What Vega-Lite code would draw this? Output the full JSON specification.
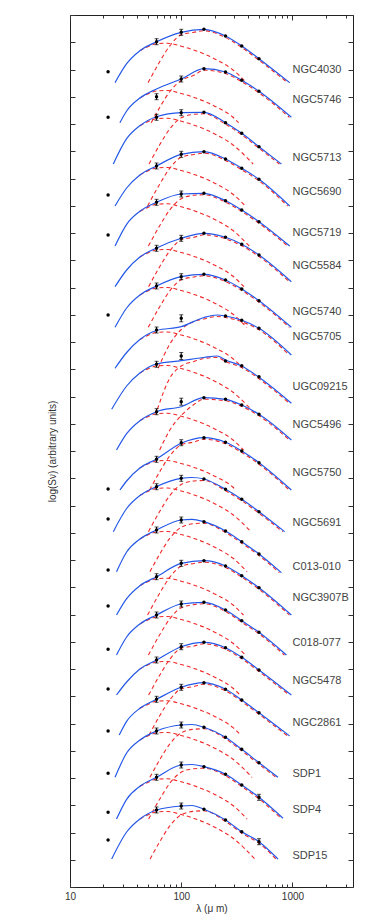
{
"$schema": "https://vega.github.io/schema/vega-lite/v6.json",
"autosize": {"type": "none"},
"width": 283, "height": 872,
"padding": {"left": 70, "top": 15, "right": 21, "bottom": 33},
"background": "white",
"config": {"view": {"stroke": "#222", "strokeWidth": 1}, "font": "Liberation Sans"},
"datasets": {
"cv": [
{"g":1,"c":"b","l":25.4,"v":80.43},{"g":1,"c":"b","l":32.3,"v":82.33},{"g":1,"c":"b","l":42.5,"v":83.63},{"g":1,"c":"b","l":60,"v":84.53},{"g":1,"c":"b","l":100,"v":85.47},{"g":1,"c":"b","l":160,"v":85.77},{"g":1,"c":"b","l":250,"v":85.1},{"g":1,"c":"b","l":350,"v":84.1},{"g":1,"c":"b","l":500,"v":82.83},{"g":1,"c":"b","l":944,"v":80.43},
{"g":1,"c":"c","l":50.3,"v":80.43},{"g":1,"c":"c","l":64,"v":82.52},{"g":1,"c":"c","l":79,"v":84.12},{"g":1,"c":"c","l":100,"v":85.22},{"g":1,"c":"c","l":130,"v":85.47},{"g":1,"c":"c","l":160,"v":85.62},{"g":1,"c":"c","l":250,"v":84.95},{"g":1,"c":"c","l":350,"v":83.95},{"g":1,"c":"c","l":500,"v":82.68},{"g":1,"c":"c","l":906,"v":80.43},
{"g":1,"c":"w","l":42.5,"v":83.63},{"g":1,"c":"w","l":48,"v":83.93},{"g":1,"c":"w","l":60,"v":84.33},{"g":1,"c":"w","l":75,"v":84.38},{"g":1,"c":"w","l":100,"v":84.08},{"g":1,"c":"w","l":127,"v":83.73},{"g":1,"c":"w","l":207,"v":82.73},{"g":1,"c":"w","l":290,"v":81.73},{"g":1,"c":"w","l":385,"v":80.43},
{"g":2,"c":"b","l":28.1,"v":76.43},{"g":2,"c":"b","l":32.3,"v":77.6},{"g":2,"c":"b","l":42.5,"v":78.9},{"g":2,"c":"b","l":60,"v":79.8},{"g":2,"c":"b","l":100,"v":80.8},{"g":2,"c":"b","l":160,"v":81.83},{"g":2,"c":"b","l":250,"v":81.5},{"g":2,"c":"b","l":350,"v":80.67},{"g":2,"c":"b","l":500,"v":79.57},{"g":2,"c":"b","l":977,"v":76.97},
{"g":2,"c":"c","l":53.7,"v":76.43},{"g":2,"c":"c","l":64,"v":77.95},{"g":2,"c":"c","l":79,"v":79.55},{"g":2,"c":"c","l":100,"v":80.65},{"g":2,"c":"c","l":130,"v":81.17},{"g":2,"c":"c","l":160,"v":81.68},{"g":2,"c":"c","l":250,"v":81.35},{"g":2,"c":"c","l":350,"v":80.52},{"g":2,"c":"c","l":500,"v":79.42},{"g":2,"c":"c","l":938,"v":76.97},
{"g":2,"c":"w","l":42.5,"v":78.9},{"g":2,"c":"w","l":48,"v":79.2},{"g":2,"c":"w","l":60,"v":79.6},{"g":2,"c":"w","l":75,"v":79.65},{"g":2,"c":"w","l":100,"v":79.35},{"g":2,"c":"w","l":127,"v":79.0},{"g":2,"c":"w","l":207,"v":78.0},{"g":2,"c":"w","l":290,"v":77.0},{"g":2,"c":"w","l":328,"v":76.43},
{"g":3,"c":"b","l":24.5,"v":72.3},{"g":3,"c":"b","l":32.3,"v":74.83},{"g":3,"c":"b","l":42.5,"v":76.13},{"g":3,"c":"b","l":60,"v":77.03},{"g":3,"c":"b","l":100,"v":77.43},{"g":3,"c":"b","l":160,"v":77.47},{"g":3,"c":"b","l":250,"v":76.43},{"g":3,"c":"b","l":350,"v":75.37},{"g":3,"c":"b","l":500,"v":74.03},{"g":3,"c":"b","l":795,"v":72.3},
{"g":3,"c":"c","l":51.3,"v":72.3},{"g":3,"c":"c","l":64,"v":74.22},{"g":3,"c":"c","l":79,"v":75.82},{"g":3,"c":"c","l":100,"v":76.92},{"g":3,"c":"c","l":130,"v":77.27},{"g":3,"c":"c","l":160,"v":77.32},{"g":3,"c":"c","l":250,"v":76.28},{"g":3,"c":"c","l":350,"v":75.22},{"g":3,"c":"c","l":500,"v":73.88},{"g":3,"c":"c","l":763,"v":72.3},
{"g":3,"c":"w","l":42.5,"v":76.13},{"g":3,"c":"w","l":48,"v":76.43},{"g":3,"c":"w","l":60,"v":76.83},{"g":3,"c":"w","l":75,"v":76.88},{"g":3,"c":"w","l":100,"v":76.58},{"g":3,"c":"w","l":127,"v":76.23},{"g":3,"c":"w","l":207,"v":75.23},{"g":3,"c":"w","l":290,"v":74.23},{"g":3,"c":"w","l":443,"v":72.3},
{"g":4,"c":"b","l":25.4,"v":68.1},{"g":4,"c":"b","l":32.3,"v":69.9},{"g":4,"c":"b","l":42.5,"v":71.2},{"g":4,"c":"b","l":60,"v":72.1},{"g":4,"c":"b","l":100,"v":73.27},{"g":4,"c":"b","l":160,"v":73.53},{"g":4,"c":"b","l":250,"v":72.8},{"g":4,"c":"b","l":350,"v":71.87},{"g":4,"c":"b","l":500,"v":70.77},{"g":4,"c":"b","l":944,"v":68.1},
{"g":4,"c":"c","l":49.8,"v":68.1},{"g":4,"c":"c","l":64,"v":70.28},{"g":4,"c":"c","l":79,"v":71.88},{"g":4,"c":"c","l":100,"v":72.98},{"g":4,"c":"c","l":130,"v":73.25},{"g":4,"c":"c","l":160,"v":73.38},{"g":4,"c":"c","l":250,"v":72.65},{"g":4,"c":"c","l":350,"v":71.72},{"g":4,"c":"c","l":500,"v":70.62},{"g":4,"c":"c","l":906,"v":68.1},
{"g":4,"c":"w","l":42.5,"v":71.2},{"g":4,"c":"w","l":48,"v":71.5},{"g":4,"c":"w","l":60,"v":71.9},{"g":4,"c":"w","l":75,"v":71.95},{"g":4,"c":"w","l":100,"v":71.65},{"g":4,"c":"w","l":127,"v":71.3},{"g":4,"c":"w","l":207,"v":70.3},{"g":4,"c":"w","l":290,"v":69.3},{"g":4,"c":"w","l":377,"v":68.1},
{"g":5,"c":"b","l":25.4,"v":64.1},{"g":5,"c":"b","l":32.3,"v":66.27},{"g":5,"c":"b","l":42.5,"v":67.57},{"g":5,"c":"b","l":60,"v":68.47},{"g":5,"c":"b","l":100,"v":69.3},{"g":5,"c":"b","l":160,"v":69.37},{"g":5,"c":"b","l":250,"v":68.63},{"g":5,"c":"b","l":350,"v":67.7},{"g":5,"c":"b","l":500,"v":66.53},{"g":5,"c":"b","l":944,"v":64.1},
{"g":5,"c":"c","l":50.7,"v":64.1},{"g":5,"c":"c","l":64,"v":66.12},{"g":5,"c":"c","l":79,"v":67.72},{"g":5,"c":"c","l":100,"v":68.82},{"g":5,"c":"c","l":130,"v":69.17},{"g":5,"c":"c","l":160,"v":69.22},{"g":5,"c":"c","l":250,"v":68.48},{"g":5,"c":"c","l":350,"v":67.55},{"g":5,"c":"c","l":500,"v":66.38},{"g":5,"c":"c","l":906,"v":64.1},
{"g":5,"c":"w","l":42.5,"v":67.57},{"g":5,"c":"w","l":48,"v":67.87},{"g":5,"c":"w","l":60,"v":68.27},{"g":5,"c":"w","l":75,"v":68.32},{"g":5,"c":"w","l":100,"v":68.02},{"g":5,"c":"w","l":127,"v":67.67},{"g":5,"c":"w","l":207,"v":66.67},{"g":5,"c":"w","l":290,"v":65.67},{"g":5,"c":"w","l":408,"v":64.1},
{"g":6,"c":"b","l":25.4,"v":60.03},{"g":6,"c":"b","l":32.3,"v":61.7},{"g":6,"c":"b","l":42.5,"v":63.0},{"g":6,"c":"b","l":60,"v":63.9},{"g":6,"c":"b","l":100,"v":64.87},{"g":6,"c":"b","l":160,"v":65.37},{"g":6,"c":"b","l":250,"v":64.97},{"g":6,"c":"b","l":350,"v":64.27},{"g":6,"c":"b","l":500,"v":63.2},{"g":6,"c":"b","l":977,"v":60.53},
{"g":6,"c":"c","l":50.9,"v":60.03},{"g":6,"c":"c","l":64,"v":62.03},{"g":6,"c":"c","l":79,"v":63.62},{"g":6,"c":"c","l":100,"v":64.72},{"g":6,"c":"c","l":130,"v":64.97},{"g":6,"c":"c","l":160,"v":65.22},{"g":6,"c":"c","l":250,"v":64.82},{"g":6,"c":"c","l":350,"v":64.12},{"g":6,"c":"c","l":500,"v":63.05},{"g":6,"c":"c","l":938,"v":60.53},
{"g":6,"c":"w","l":42.5,"v":63.0},{"g":6,"c":"w","l":48,"v":63.3},{"g":6,"c":"w","l":60,"v":63.7},{"g":6,"c":"w","l":75,"v":63.75},{"g":6,"c":"w","l":100,"v":63.45},{"g":6,"c":"w","l":127,"v":63.1},{"g":6,"c":"w","l":207,"v":62.1},{"g":6,"c":"w","l":290,"v":61.1},{"g":6,"c":"w","l":366,"v":60.03},
{"g":7,"c":"b","l":25.4,"v":55.97},{"g":7,"c":"b","l":32.3,"v":57.9},{"g":7,"c":"b","l":42.5,"v":59.2},{"g":7,"c":"b","l":60,"v":60.1},{"g":7,"c":"b","l":100,"v":61.03},{"g":7,"c":"b","l":160,"v":61.27},{"g":7,"c":"b","l":250,"v":60.7},{"g":7,"c":"b","l":350,"v":59.8},{"g":7,"c":"b","l":500,"v":58.63},{"g":7,"c":"b","l":977,"v":55.97},
{"g":7,"c":"c","l":50.5,"v":55.97},{"g":7,"c":"c","l":64,"v":58.02},{"g":7,"c":"c","l":79,"v":59.62},{"g":7,"c":"c","l":100,"v":60.72},{"g":7,"c":"c","l":130,"v":61.0},{"g":7,"c":"c","l":160,"v":61.12},{"g":7,"c":"c","l":250,"v":60.55},{"g":7,"c":"c","l":350,"v":59.65},{"g":7,"c":"c","l":500,"v":58.48},{"g":7,"c":"c","l":938,"v":55.97},
{"g":7,"c":"w","l":42.5,"v":59.2},{"g":7,"c":"w","l":48,"v":59.5},{"g":7,"c":"w","l":60,"v":59.9},{"g":7,"c":"w","l":75,"v":59.95},{"g":7,"c":"w","l":100,"v":59.65},{"g":7,"c":"w","l":127,"v":59.3},{"g":7,"c":"w","l":207,"v":58.3},{"g":7,"c":"w","l":290,"v":57.3},{"g":7,"c":"w","l":388,"v":55.97},
{"g":8,"c":"b","l":25.4,"v":51.87},{"g":8,"c":"b","l":32.3,"v":53.45},{"g":8,"c":"b","l":42.5,"v":54.75},{"g":8,"c":"b","l":60,"v":55.65},{"g":8,"c":"b","l":100,"v":56.03},{"g":8,"c":"b","l":160,"v":56.95},{"g":8,"c":"b","l":210,"v":57.2},{"g":8,"c":"b","l":250,"v":57.1},{"g":8,"c":"b","l":350,"v":56.67},{"g":8,"c":"b","l":500,"v":55.87},{"g":8,"c":"b","l":977,"v":53.2},
{"g":8,"c":"c","l":62,"v":51.87},{"g":8,"c":"c","l":79,"v":54.3},{"g":8,"c":"c","l":100,"v":55.75},{"g":8,"c":"c","l":130,"v":56.55},{"g":8,"c":"c","l":160,"v":56.8},{"g":8,"c":"c","l":210,"v":57.05},{"g":8,"c":"c","l":250,"v":56.95},{"g":8,"c":"c","l":350,"v":56.52},{"g":8,"c":"c","l":500,"v":55.72},{"g":8,"c":"c","l":938,"v":53.2},
{"g":8,"c":"w","l":42.5,"v":54.75},{"g":8,"c":"w","l":48,"v":55.05},{"g":8,"c":"w","l":60,"v":55.45},{"g":8,"c":"w","l":75,"v":55.5},{"g":8,"c":"w","l":100,"v":55.2},{"g":8,"c":"w","l":127,"v":54.85},{"g":8,"c":"w","l":207,"v":53.85},{"g":8,"c":"w","l":290,"v":52.85},{"g":8,"c":"w","l":359,"v":51.87},
{"g":9,"c":"b","l":23.7,"v":47.77},{"g":9,"c":"b","l":32.3,"v":50.1},{"g":9,"c":"b","l":42.5,"v":51.4},{"g":9,"c":"b","l":60,"v":52.3},{"g":9,"c":"b","l":100,"v":52.63},{"g":9,"c":"b","l":160,"v":52.95},{"g":9,"c":"b","l":210,"v":53.1},{"g":9,"c":"b","l":250,"v":52.7},{"g":9,"c":"b","l":350,"v":52.1},{"g":9,"c":"b","l":500,"v":50.97},{"g":9,"c":"b","l":977,"v":48.37},
{"g":9,"c":"c","l":61,"v":47.77},{"g":9,"c":"c","l":79,"v":50.9},{"g":9,"c":"c","l":100,"v":52.1},{"g":9,"c":"c","l":130,"v":52.55},{"g":9,"c":"c","l":160,"v":52.85},{"g":9,"c":"c","l":210,"v":52.95},{"g":9,"c":"c","l":250,"v":52.55},{"g":9,"c":"c","l":350,"v":51.95},{"g":9,"c":"c","l":500,"v":50.82},{"g":9,"c":"c","l":938,"v":48.37},
{"g":9,"c":"w","l":42.5,"v":51.4},{"g":9,"c":"w","l":48,"v":51.7},{"g":9,"c":"w","l":60,"v":52.1},{"g":9,"c":"w","l":75,"v":52.15},{"g":9,"c":"w","l":100,"v":51.85},{"g":9,"c":"w","l":127,"v":51.5},{"g":9,"c":"w","l":207,"v":50.5},{"g":9,"c":"w","l":290,"v":49.5},{"g":9,"c":"w","l":424,"v":47.77},
{"g":10,"c":"b","l":26.2,"v":43.7},{"g":10,"c":"b","l":32.3,"v":45.33},{"g":10,"c":"b","l":42.5,"v":46.63},{"g":10,"c":"b","l":60,"v":47.53},{"g":10,"c":"b","l":100,"v":48.03},{"g":10,"c":"b","l":160,"v":48.93},{"g":10,"c":"b","l":250,"v":48.77},{"g":10,"c":"b","l":350,"v":48.2},{"g":10,"c":"b","l":500,"v":47.27},{"g":10,"c":"b","l":977,"v":44.7},
{"g":10,"c":"c","l":64,"v":43.7},{"g":10,"c":"c","l":79,"v":45.7},{"g":10,"c":"c","l":100,"v":47.15},{"g":10,"c":"c","l":130,"v":48.25},{"g":10,"c":"c","l":160,"v":48.78},{"g":10,"c":"c","l":250,"v":48.62},{"g":10,"c":"c","l":350,"v":48.05},{"g":10,"c":"c","l":500,"v":47.12},{"g":10,"c":"c","l":938,"v":44.7},
{"g":10,"c":"w","l":42.5,"v":46.63},{"g":10,"c":"w","l":48,"v":46.93},{"g":10,"c":"w","l":60,"v":47.33},{"g":10,"c":"w","l":75,"v":47.38},{"g":10,"c":"w","l":100,"v":47.08},{"g":10,"c":"w","l":127,"v":46.73},{"g":10,"c":"w","l":207,"v":45.73},{"g":10,"c":"w","l":290,"v":44.73},{"g":10,"c":"w","l":363,"v":43.7},
{"g":11,"c":"b","l":28.1,"v":39.7},{"g":11,"c":"b","l":32.3,"v":40.6},{"g":11,"c":"b","l":42.5,"v":41.9},{"g":11,"c":"b","l":60,"v":42.8},{"g":11,"c":"b","l":100,"v":44.37},{"g":11,"c":"b","l":160,"v":44.93},{"g":11,"c":"b","l":250,"v":44.47},{"g":11,"c":"b","l":350,"v":43.6},{"g":11,"c":"b","l":500,"v":42.43},{"g":11,"c":"b","l":977,"v":39.7},
{"g":11,"c":"c","l":51.9,"v":39.7},{"g":11,"c":"c","l":64,"v":41.52},{"g":11,"c":"c","l":79,"v":43.12},{"g":11,"c":"c","l":100,"v":44.22},{"g":11,"c":"c","l":130,"v":44.5},{"g":11,"c":"c","l":160,"v":44.78},{"g":11,"c":"c","l":250,"v":44.32},{"g":11,"c":"c","l":350,"v":43.45},{"g":11,"c":"c","l":500,"v":42.28},{"g":11,"c":"c","l":938,"v":39.7},
{"g":11,"c":"w","l":42.5,"v":41.9},{"g":11,"c":"w","l":48,"v":42.2},{"g":11,"c":"w","l":60,"v":42.6},{"g":11,"c":"w","l":75,"v":42.65},{"g":11,"c":"w","l":100,"v":42.35},{"g":11,"c":"w","l":127,"v":42.0},{"g":11,"c":"w","l":207,"v":41.0},{"g":11,"c":"w","l":290,"v":40.0},{"g":11,"c":"w","l":309,"v":39.7},
{"g":12,"c":"b","l":24.5,"v":35.53},{"g":12,"c":"b","l":32.3,"v":37.85},{"g":12,"c":"b","l":42.5,"v":39.15},{"g":12,"c":"b","l":60,"v":40.05},{"g":12,"c":"b","l":100,"v":40.87},{"g":12,"c":"b","l":125,"v":40.95},{"g":12,"c":"b","l":160,"v":40.8},{"g":12,"c":"b","l":250,"v":39.77},{"g":12,"c":"b","l":350,"v":38.77},{"g":12,"c":"b","l":500,"v":37.53},{"g":12,"c":"b","l":851,"v":35.53},
{"g":12,"c":"c","l":50.7,"v":35.53},{"g":12,"c":"c","l":64,"v":37.55},{"g":12,"c":"c","l":79,"v":39.15},{"g":12,"c":"c","l":100,"v":40.25},{"g":12,"c":"c","l":130,"v":40.6},{"g":12,"c":"c","l":160,"v":40.65},{"g":12,"c":"c","l":250,"v":39.62},{"g":12,"c":"c","l":350,"v":38.62},{"g":12,"c":"c","l":500,"v":37.38},{"g":12,"c":"c","l":817,"v":35.53},
{"g":12,"c":"w","l":42.5,"v":39.15},{"g":12,"c":"w","l":48,"v":39.45},{"g":12,"c":"w","l":60,"v":39.85},{"g":12,"c":"w","l":75,"v":39.9},{"g":12,"c":"w","l":100,"v":39.6},{"g":12,"c":"w","l":127,"v":39.25},{"g":12,"c":"w","l":207,"v":38.25},{"g":12,"c":"w","l":290,"v":37.25},{"g":12,"c":"w","l":423,"v":35.53},
{"g":13,"c":"b","l":26.2,"v":31.53},{"g":13,"c":"b","l":32.3,"v":33.5},{"g":13,"c":"b","l":42.5,"v":34.8},{"g":13,"c":"b","l":60,"v":35.7},{"g":13,"c":"b","l":100,"v":36.7},{"g":13,"c":"b","l":125,"v":36.77},{"g":13,"c":"b","l":160,"v":36.53},{"g":13,"c":"b","l":250,"v":35.6},{"g":13,"c":"b","l":350,"v":34.53},{"g":13,"c":"b","l":500,"v":33.3},{"g":13,"c":"b","l":795,"v":31.43},
{"g":13,"c":"c","l":52.3,"v":31.53},{"g":13,"c":"c","l":64,"v":33.28},{"g":13,"c":"c","l":79,"v":34.88},{"g":13,"c":"c","l":100,"v":35.98},{"g":13,"c":"c","l":130,"v":36.33},{"g":13,"c":"c","l":160,"v":36.38},{"g":13,"c":"c","l":250,"v":35.45},{"g":13,"c":"c","l":350,"v":34.38},{"g":13,"c":"c","l":500,"v":33.15},{"g":13,"c":"c","l":763,"v":31.43},
{"g":13,"c":"w","l":42.5,"v":34.8},{"g":13,"c":"w","l":48,"v":35.1},{"g":13,"c":"w","l":60,"v":35.5},{"g":13,"c":"w","l":75,"v":35.55},{"g":13,"c":"w","l":100,"v":35.25},{"g":13,"c":"w","l":127,"v":34.9},{"g":13,"c":"w","l":207,"v":33.9},{"g":13,"c":"w","l":290,"v":32.9},{"g":13,"c":"w","l":391,"v":31.53},
{"g":14,"c":"b","l":26.2,"v":27.2},{"g":14,"c":"b","l":32.3,"v":28.83},{"g":14,"c":"b","l":42.5,"v":30.13},{"g":14,"c":"b","l":60,"v":31.03},{"g":14,"c":"b","l":100,"v":32.37},{"g":14,"c":"b","l":160,"v":32.63},{"g":14,"c":"b","l":250,"v":32.1},{"g":14,"c":"b","l":350,"v":31.13},{"g":14,"c":"b","l":500,"v":29.93},{"g":14,"c":"b","l":977,"v":27.2},
{"g":14,"c":"c","l":49.8,"v":27.2},{"g":14,"c":"c","l":64,"v":29.38},{"g":14,"c":"c","l":79,"v":30.98},{"g":14,"c":"c","l":100,"v":32.08},{"g":14,"c":"c","l":130,"v":32.35},{"g":14,"c":"c","l":160,"v":32.48},{"g":14,"c":"c","l":250,"v":31.95},{"g":14,"c":"c","l":350,"v":30.98},{"g":14,"c":"c","l":500,"v":29.78},{"g":14,"c":"c","l":938,"v":27.2},
{"g":14,"c":"w","l":42.5,"v":30.13},{"g":14,"c":"w","l":48,"v":30.43},{"g":14,"c":"w","l":60,"v":30.83},{"g":14,"c":"w","l":75,"v":30.88},{"g":14,"c":"w","l":100,"v":30.58},{"g":14,"c":"w","l":127,"v":30.23},{"g":14,"c":"w","l":207,"v":29.23},{"g":14,"c":"w","l":290,"v":28.23},{"g":14,"c":"w","l":363,"v":27.2},
{"g":15,"c":"b","l":26.2,"v":23.2},{"g":15,"c":"b","l":32.3,"v":25.0},{"g":15,"c":"b","l":42.5,"v":26.3},{"g":15,"c":"b","l":60,"v":27.2},{"g":15,"c":"b","l":100,"v":28.3},{"g":15,"c":"b","l":160,"v":28.47},{"g":15,"c":"b","l":250,"v":27.7},{"g":15,"c":"b","l":350,"v":26.63},{"g":15,"c":"b","l":500,"v":25.47},{"g":15,"c":"b","l":882,"v":23.2},
{"g":15,"c":"c","l":50.7,"v":23.2},{"g":15,"c":"c","l":64,"v":25.22},{"g":15,"c":"c","l":79,"v":26.82},{"g":15,"c":"c","l":100,"v":27.92},{"g":15,"c":"c","l":130,"v":28.24},{"g":15,"c":"c","l":160,"v":28.32},{"g":15,"c":"c","l":250,"v":27.55},{"g":15,"c":"c","l":350,"v":26.48},{"g":15,"c":"c","l":500,"v":25.32},{"g":15,"c":"c","l":847,"v":23.2},
{"g":15,"c":"w","l":42.5,"v":26.3},{"g":15,"c":"w","l":48,"v":26.6},{"g":15,"c":"w","l":60,"v":27.0},{"g":15,"c":"w","l":75,"v":27.05},{"g":15,"c":"w","l":100,"v":26.75},{"g":15,"c":"w","l":127,"v":26.4},{"g":15,"c":"w","l":207,"v":25.4},{"g":15,"c":"w","l":290,"v":24.4},{"g":15,"c":"w","l":377,"v":23.2},
{"g":16,"c":"b","l":26.2,"v":19.2},{"g":16,"c":"b","l":32.3,"v":20.5},{"g":16,"c":"b","l":42.5,"v":21.8},{"g":16,"c":"b","l":60,"v":22.7},{"g":16,"c":"b","l":100,"v":24.03},{"g":16,"c":"b","l":160,"v":24.47},{"g":16,"c":"b","l":250,"v":23.93},{"g":16,"c":"b","l":350,"v":22.97},{"g":16,"c":"b","l":500,"v":21.7},{"g":16,"c":"b","l":977,"v":19.2},
{"g":16,"c":"c","l":50.9,"v":19.2},{"g":16,"c":"c","l":64,"v":21.18},{"g":16,"c":"c","l":79,"v":22.78},{"g":16,"c":"c","l":100,"v":23.88},{"g":16,"c":"c","l":130,"v":24.1},{"g":16,"c":"c","l":160,"v":24.32},{"g":16,"c":"c","l":250,"v":23.78},{"g":16,"c":"c","l":350,"v":22.82},{"g":16,"c":"c","l":500,"v":21.55},{"g":16,"c":"c","l":938,"v":19.2},
{"g":16,"c":"w","l":42.5,"v":21.8},{"g":16,"c":"w","l":48,"v":22.1},{"g":16,"c":"w","l":60,"v":22.5},{"g":16,"c":"w","l":75,"v":22.55},{"g":16,"c":"w","l":100,"v":22.25},{"g":16,"c":"w","l":127,"v":21.9},{"g":16,"c":"w","l":207,"v":20.9},{"g":16,"c":"w","l":290,"v":19.9},{"g":16,"c":"w","l":338,"v":19.2},
{"g":17,"c":"b","l":27.7,"v":15.2},{"g":17,"c":"b","l":32.3,"v":16.57},{"g":17,"c":"b","l":42.5,"v":17.87},{"g":17,"c":"b","l":60,"v":18.77},{"g":17,"c":"b","l":100,"v":19.97},{"g":17,"c":"b","l":160,"v":20.43},{"g":17,"c":"b","l":250,"v":19.77},{"g":17,"c":"b","l":350,"v":18.7},{"g":17,"c":"b","l":500,"v":17.43},{"g":17,"c":"b","l":944,"v":15.1},
{"g":17,"c":"c","l":51.3,"v":15.2},{"g":17,"c":"c","l":64,"v":17.12},{"g":17,"c":"c","l":79,"v":18.72},{"g":17,"c":"c","l":100,"v":19.82},{"g":17,"c":"c","l":130,"v":20.05},{"g":17,"c":"c","l":160,"v":20.28},{"g":17,"c":"c","l":250,"v":19.62},{"g":17,"c":"c","l":350,"v":18.55},{"g":17,"c":"c","l":500,"v":17.28},{"g":17,"c":"c","l":906,"v":15.1},
{"g":17,"c":"w","l":42.5,"v":17.87},{"g":17,"c":"w","l":48,"v":18.17},{"g":17,"c":"w","l":60,"v":18.57},{"g":17,"c":"w","l":75,"v":18.62},{"g":17,"c":"w","l":100,"v":18.32},{"g":17,"c":"w","l":127,"v":17.97},{"g":17,"c":"w","l":207,"v":16.97},{"g":17,"c":"w","l":290,"v":15.97},{"g":17,"c":"w","l":343,"v":15.2},
{"g":18,"c":"b","l":25.4,"v":10.97},{"g":18,"c":"b","l":32.3,"v":13.4},{"g":18,"c":"b","l":42.5,"v":14.7},{"g":18,"c":"b","l":60,"v":15.6},{"g":18,"c":"b","l":100,"v":16.2},{"g":18,"c":"b","l":125,"v":16.25},{"g":18,"c":"b","l":160,"v":15.97},{"g":18,"c":"b","l":250,"v":14.97},{"g":18,"c":"b","l":350,"v":13.77},{"g":18,"c":"b","l":500,"v":12.43},{"g":18,"c":"b","l":741,"v":10.97},
{"g":18,"c":"c","l":52.3,"v":10.97},{"g":18,"c":"c","l":64,"v":12.72},{"g":18,"c":"c","l":79,"v":14.32},{"g":18,"c":"c","l":100,"v":15.42},{"g":18,"c":"c","l":130,"v":15.77},{"g":18,"c":"c","l":160,"v":15.82},{"g":18,"c":"c","l":250,"v":14.82},{"g":18,"c":"c","l":350,"v":13.62},{"g":18,"c":"c","l":500,"v":12.28},{"g":18,"c":"c","l":711,"v":10.97},
{"g":18,"c":"w","l":42.5,"v":14.7},{"g":18,"c":"w","l":48,"v":15.0},{"g":18,"c":"w","l":60,"v":15.4},{"g":18,"c":"w","l":75,"v":15.45},{"g":18,"c":"w","l":100,"v":15.15},{"g":18,"c":"w","l":127,"v":14.8},{"g":18,"c":"w","l":207,"v":13.8},{"g":18,"c":"w","l":290,"v":12.8},{"g":18,"c":"w","l":433,"v":10.97},
{"g":19,"c":"b","l":26.2,"v":6.8},{"g":19,"c":"b","l":32.3,"v":8.77},{"g":19,"c":"b","l":42.5,"v":10.07},{"g":19,"c":"b","l":60,"v":10.97},{"g":19,"c":"b","l":100,"v":12.2},{"g":19,"c":"b","l":125,"v":12.25},{"g":19,"c":"b","l":160,"v":12.03},{"g":19,"c":"b","l":250,"v":11.27},{"g":19,"c":"b","l":350,"v":10.2},{"g":19,"c":"b","l":500,"v":8.97},{"g":19,"c":"b","l":822,"v":6.87},
{"g":19,"c":"c","l":50.9,"v":6.8},{"g":19,"c":"c","l":64,"v":8.78},{"g":19,"c":"c","l":79,"v":10.38},{"g":19,"c":"c","l":100,"v":11.48},{"g":19,"c":"c","l":130,"v":11.83},{"g":19,"c":"c","l":160,"v":11.88},{"g":19,"c":"c","l":250,"v":11.12},{"g":19,"c":"c","l":350,"v":10.05},{"g":19,"c":"c","l":500,"v":8.82},{"g":19,"c":"c","l":789,"v":6.87},
{"g":19,"c":"w","l":42.5,"v":10.07},{"g":19,"c":"w","l":48,"v":10.37},{"g":19,"c":"w","l":60,"v":10.77},{"g":19,"c":"w","l":75,"v":10.82},{"g":19,"c":"w","l":100,"v":10.52},{"g":19,"c":"w","l":127,"v":10.17},{"g":19,"c":"w","l":207,"v":9.17},{"g":19,"c":"w","l":290,"v":8.17},{"g":19,"c":"w","l":391,"v":6.8},
{"g":20,"c":"b","l":23.7,"v":2.8},{"g":20,"c":"b","l":32.3,"v":5.5},{"g":20,"c":"b","l":42.5,"v":6.8},{"g":20,"c":"b","l":60,"v":7.7},{"g":20,"c":"b","l":100,"v":8.1},{"g":20,"c":"b","l":125,"v":8.15},{"g":20,"c":"b","l":160,"v":7.77},{"g":20,"c":"b","l":250,"v":6.7},{"g":20,"c":"b","l":350,"v":5.53},{"g":20,"c":"b","l":500,"v":4.53},{"g":20,"c":"b","l":741,"v":2.8},
{"g":20,"c":"c","l":52.5,"v":2.8},{"g":20,"c":"c","l":64,"v":4.52},{"g":20,"c":"c","l":79,"v":6.12},{"g":20,"c":"c","l":100,"v":7.22},{"g":20,"c":"c","l":130,"v":7.57},{"g":20,"c":"c","l":160,"v":7.62},{"g":20,"c":"c","l":250,"v":6.55},{"g":20,"c":"c","l":350,"v":5.38},{"g":20,"c":"c","l":500,"v":4.38},{"g":20,"c":"c","l":711,"v":2.8},
{"g":20,"c":"w","l":42.5,"v":6.8},{"g":20,"c":"w","l":48,"v":7.1},{"g":20,"c":"w","l":60,"v":7.5},{"g":20,"c":"w","l":75,"v":7.55},{"g":20,"c":"w","l":100,"v":7.25},{"g":20,"c":"w","l":127,"v":6.9},{"g":20,"c":"w","l":207,"v":5.9},{"g":20,"c":"w","l":290,"v":4.9},{"g":20,"c":"w","l":459,"v":2.8}
],
"pt": [
{"l":22,"v":81.53},{"l":60,"v":84.53,"lo":84.23,"hi":84.83},{"l":100,"v":85.47,"lo":85.17,"hi":85.77},{"l":160,"v":85.77},{"l":250,"v":85.1},{"l":350,"v":84.1},{"l":500,"v":82.83},
{"l":22,"v":76.97},{"l":60,"v":79.03,"lo":78.73,"hi":79.33},{"l":100,"v":80.8,"lo":80.5,"hi":81.1},{"l":160,"v":81.83},{"l":250,"v":81.5},{"l":350,"v":80.67},{"l":500,"v":79.57},
{"l":60,"v":76.97,"lo":76.67,"hi":77.27},{"l":100,"v":77.43,"lo":77.13,"hi":77.73},{"l":160,"v":77.47},{"l":250,"v":76.43},{"l":350,"v":75.37},{"l":500,"v":74.03},
{"l":22,"v":69.2},{"l":60,"v":72.1,"lo":71.8,"hi":72.4},{"l":100,"v":73.27,"lo":72.97,"hi":73.57},{"l":160,"v":73.53},{"l":250,"v":72.8},{"l":350,"v":71.87},{"l":500,"v":70.77},
{"l":22,"v":65.2},{"l":60,"v":68.47,"lo":68.17,"hi":68.77},{"l":100,"v":69.3,"lo":69.0,"hi":69.6},{"l":160,"v":69.37},{"l":250,"v":68.63},{"l":350,"v":67.7},{"l":500,"v":66.53},
{"l":60,"v":63.87,"lo":63.57,"hi":64.17},{"l":100,"v":64.87,"lo":64.57,"hi":65.17},{"l":160,"v":65.37},{"l":250,"v":64.97},{"l":350,"v":64.27},{"l":500,"v":63.2},
{"l":22,"v":57.2},{"l":60,"v":60.1,"lo":59.8,"hi":60.4},{"l":100,"v":61.03,"lo":60.73,"hi":61.33},{"l":160,"v":61.27},{"l":250,"v":60.7},{"l":350,"v":59.8},{"l":500,"v":58.63},
{"l":60,"v":55.7,"lo":55.4,"hi":56.0},{"l":100,"v":56.87,"lo":56.52,"hi":57.22},{"l":250,"v":57.1},{"l":350,"v":56.67},{"l":500,"v":55.87},
{"l":60,"v":52.27,"lo":51.97,"hi":52.57},{"l":100,"v":53.1,"lo":52.75,"hi":53.45},{"l":250,"v":52.6},{"l":350,"v":52.13},{"l":500,"v":51.03},
{"l":60,"v":47.53,"lo":47.23,"hi":47.83},{"l":100,"v":48.53,"lo":48.18,"hi":48.88},{"l":160,"v":48.93},{"l":250,"v":48.77},{"l":350,"v":48.2},{"l":500,"v":47.27},
{"l":22,"v":39.8},{"l":60,"v":42.77,"lo":42.47,"hi":43.07},{"l":100,"v":44.43,"lo":44.13,"hi":44.73},{"l":160,"v":44.93},{"l":250,"v":44.47},{"l":350,"v":43.6},{"l":500,"v":42.43},
{"l":22,"v":36.8},{"l":60,"v":40.03,"lo":39.73,"hi":40.33},{"l":100,"v":40.87,"lo":40.57,"hi":41.17},{"l":160,"v":40.8},{"l":250,"v":39.77},{"l":350,"v":38.77},{"l":500,"v":37.53},
{"l":22,"v":31.7},{"l":60,"v":35.7,"lo":35.4,"hi":36.0},{"l":100,"v":36.7,"lo":36.4,"hi":37.0},{"l":160,"v":36.53},{"l":250,"v":35.6},{"l":350,"v":34.53},{"l":500,"v":33.3},
{"l":22,"v":28.1},{"l":60,"v":31.03,"lo":30.73,"hi":31.33},{"l":100,"v":32.37,"lo":32.07,"hi":32.67},{"l":160,"v":32.63},{"l":250,"v":32.1},{"l":350,"v":31.13},{"l":500,"v":29.93},
{"l":22,"v":23.77},{"l":60,"v":27.2,"lo":26.9,"hi":27.5},{"l":100,"v":28.3,"lo":28.0,"hi":28.6},{"l":160,"v":28.47},{"l":250,"v":27.7},{"l":350,"v":26.63},{"l":500,"v":25.47},
{"l":22,"v":19.8},{"l":60,"v":22.7,"lo":22.4,"hi":23.0},{"l":100,"v":24.03,"lo":23.73,"hi":24.33},{"l":160,"v":24.47},{"l":250,"v":23.93},{"l":350,"v":22.97},{"l":500,"v":21.7},
{"l":22,"v":15.6},{"l":60,"v":18.77,"lo":18.47,"hi":19.07},{"l":100,"v":19.97,"lo":19.67,"hi":20.27},{"l":160,"v":20.43},{"l":250,"v":19.77},{"l":350,"v":18.7},{"l":500,"v":17.43},
{"l":22,"v":11.37},{"l":60,"v":15.6,"lo":15.3,"hi":15.9},{"l":100,"v":16.2,"lo":15.9,"hi":16.5},{"l":160,"v":15.97},{"l":250,"v":14.97},{"l":350,"v":13.77},{"l":500,"v":12.43},
{"l":22,"v":7.47},{"l":60,"v":10.97,"lo":10.67,"hi":11.27},{"l":100,"v":12.2,"lo":11.9,"hi":12.5},{"l":160,"v":12.03},{"l":250,"v":11.27},{"l":350,"v":10.2},{"l":500,"v":8.97,"lo":8.67,"hi":9.27},
{"l":22,"v":4.7},{"l":60,"v":7.7,"lo":7.4,"hi":8.0},{"l":100,"v":8.1,"lo":7.8,"hi":8.4},{"l":160,"v":7.77},{"l":250,"v":6.7},{"l":350,"v":5.53},{"l":500,"v":4.53,"lo":4.23,"hi":4.83}
],
"lb": [
{"n":"NGC4030","l":1000,"v":81.7},{"n":"NGC5746","l":1000,"v":78.7},{"n":"NGC5713","l":1000,"v":72.9},{"n":"NGC5690","l":1000,"v":69.5},{"n":"NGC5719","l":1000,"v":65.4},{"n":"NGC5584","l":1000,"v":62.1},{"n":"NGC5740","l":1000,"v":57.5},{"n":"NGC5705","l":1000,"v":55.0},{"n":"UGC09215","l":1000,"v":50.0},{"n":"NGC5496","l":1000,"v":46.2},{"n":"NGC5750","l":1000,"v":41.4},{"n":"NGC5691","l":1000,"v":36.4},{"n":"C013-010","l":1000,"v":32.0},{"n":"NGC3907B","l":1000,"v":28.9},{"n":"C018-077","l":1000,"v":24.4},{"n":"NGC5478","l":1000,"v":20.6},{"n":"NGC2861","l":1000,"v":16.4},{"n":"SDP1","l":1000,"v":11.3},{"n":"SDP4","l":1000,"v":7.7},{"n":"SDP15","l":1000,"v":3.1}
]
},
"layer": [
{"data": {"name": "cv"}, "transform": [{"filter": "datum.c != 'b'"}],
 "mark": {"type": "line", "color": "#f02828", "strokeDash": [4, 3], "strokeWidth": 1.1, "interpolate": "monotone"},
 "encoding": {
  "x": {"field": "l", "type": "quantitative", "scale": {"type": "log", "domain": [10, 3500]},
   "axis": {"orient": "bottom", "values": [10, 100, 1000], "format": "d", "offset": -5, "tickSize": 5, "domain": false, "grid": false, "tickColor": "#333", "labelFontSize": 10, "labelColor": "#333", "labelPadding": 4, "labelFlush": false, "title": "λ (μ m)", "titleFontSize": 10, "titleFontWeight": "normal", "titleColor": "#333", "titlePadding": 2}},
  "y": {"field": "v", "type": "quantitative", "scale": {"domain": [0, 87.2]},
   "axis": {"orient": "left", "values": [0,2.725,5.45,8.175,10.9,13.625,16.35,19.075,21.8,24.525,27.25,29.975,32.7,35.425,38.15,40.875,43.6,46.325,49.05,51.775,54.5,57.225,59.95,62.675,65.4,68.125,70.85,73.575,76.3,79.025,81.75,84.475,87.2], "offset": -5, "tickSize": 5, "tickColor": "#333", "labels": false, "domain": false, "grid": false, "title": "log(Sν) (arbitrary units)", "titleFontSize": 10, "titleFontWeight": "normal", "titleColor": "#333", "titlePadding": 12}},
  "detail": [{"field": "g"}, {"field": "c"}]}},
{"data": {"name": "cv"}, "transform": [{"filter": "datum.c == 'b'"}],
 "mark": {"type": "line", "color": "#2458e8", "strokeWidth": 1.2, "interpolate": "monotone"},
 "encoding": {
  "x": {"field": "l", "type": "quantitative", "scale": {"type": "log", "domain": [10, 3500]},
   "axis": {"orient": "bottom", "values": [20,30,40,50,60,70,80,90,200,300,400,500,600,700,800,900,2000,3000], "offset": -3, "tickSize": 3, "tickColor": "#333", "labels": false, "domain": false, "grid": false, "title": null}},
  "y": {"field": "v", "type": "quantitative", "scale": {"domain": [0, 87.2]},
   "axis": {"orient": "right", "values": [0,2.725,5.45,8.175,10.9,13.625,16.35,19.075,21.8,24.525,27.25,29.975,32.7,35.425,38.15,40.875,43.6,46.325,49.05,51.775,54.5,57.225,59.95,62.675,65.4,68.125,70.85,73.575,76.3,79.025,81.75,84.475,87.2], "offset": -5, "tickSize": 5, "tickColor": "#333", "labels": false, "domain": false, "grid": false, "title": null}},
  "detail": {"field": "g"}}},
{"data": {"name": "pt"}, "transform": [{"filter": "isValid(datum.lo)"}],
 "mark": {"type": "rule", "color": "#000", "strokeWidth": 1},
 "encoding": {
  "x": {"field": "l", "type": "quantitative", "scale": {"type": "log", "domain": [10, 3500]},
   "axis": {"orient": "top", "values": [10, 100, 1000], "offset": -5, "tickSize": 5, "tickColor": "#333", "labels": false, "domain": false, "grid": false, "title": null}},
  "y": {"field": "lo", "type": "quantitative", "scale": {"domain": [0, 87.2]}, "axis": null},
  "y2": {"field": "hi"}}},
{"data": {"name": "pt"}, "transform": [{"filter": "isValid(datum.lo)"}],
 "mark": {"type": "tick", "orient": "horizontal", "color": "#000", "size": 4, "thickness": 1},
 "encoding": {
  "x": {"field": "l", "type": "quantitative", "scale": {"type": "log", "domain": [10, 3500]},
   "axis": {"orient": "top", "values": [20,30,40,50,60,70,80,90,200,300,400,500,600,700,800,900,2000,3000], "offset": -3, "tickSize": 3, "tickColor": "#333", "labels": false, "domain": false, "grid": false, "title": null}},
  "y": {"field": "lo", "type": "quantitative", "scale": {"domain": [0, 87.2]}, "axis": null}}},
{"data": {"name": "pt"}, "transform": [{"filter": "isValid(datum.hi)"}],
 "mark": {"type": "tick", "orient": "horizontal", "color": "#000", "size": 4, "thickness": 1},
 "encoding": {
  "x": {"field": "l", "type": "quantitative", "scale": {"type": "log", "domain": [10, 3500]}, "axis": null},
  "y": {"field": "hi", "type": "quantitative", "scale": {"domain": [0, 87.2]}, "axis": null}}},
{"data": {"name": "pt"},
 "mark": {"type": "circle", "color": "#000", "size": 12, "opacity": 1},
 "encoding": {
  "x": {"field": "l", "type": "quantitative", "scale": {"type": "log", "domain": [10, 3500]}, "axis": null},
  "y": {"field": "v", "type": "quantitative", "scale": {"domain": [0, 87.2]}, "axis": null}}},
{"data": {"name": "lb"},
 "mark": {"type": "text", "align": "left", "baseline": "middle", "fontSize": 11, "color": "#444", "font": "Liberation Sans"},
 "encoding": {
  "x": {"field": "l", "type": "quantitative", "scale": {"type": "log", "domain": [10, 3500]}, "axis": null},
  "y": {"field": "v", "type": "quantitative", "scale": {"domain": [0, 87.2]}, "axis": null},
  "text": {"field": "n"}}}
],
"resolve": {"axis": {"x": "independent", "y": "independent"}}
}
